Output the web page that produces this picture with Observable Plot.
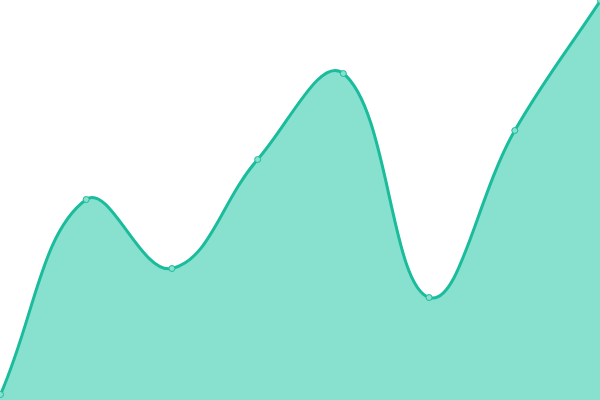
<!DOCTYPE html>
<html>
<head>
<meta charset="utf-8">
<script src="https://cdn.jsdelivr.net/npm/d3@7"></script>
<script src="https://cdn.jsdelivr.net/npm/@observablehq/plot@0.6"></script>
<style>
html,body{margin:0;padding:0;background:#fff;overflow:hidden;}
</style>
</head>
<body>
<div id="chart"></div>
<script>
const xs = [0, 1, 2, 3, 4, 5, 6, 7];
const values = [1.5, 50.25, 33, 60.25, 81.75, 25.75, 67.5, 100];
const data = xs.map((x, i) => ({x, y: values[i]}));

// Spline with distance-weighted control points (tension 0.4)
function SplineCurve(context) { this._context = context; }
SplineCurve.prototype = {
  areaStart() { this._line = 0; },
  areaEnd() { this._line = NaN; },
  lineStart() { this._pts = []; },
  point(x, y) { this._pts.push([+x, +y]); },
  lineEnd() {
    const p = this._pts, n = p.length, c = this._context, t = 0.4;
    if (n) {
      if (this._line) c.lineTo(p[0][0], p[0][1]); else c.moveTo(p[0][0], p[0][1]);
      const cps = p.map((cur, i) => {
        const prev = p[Math.max(0, i - 1)], next = p[Math.min(n - 1, i + 1)];
        const d01 = Math.hypot(cur[0] - prev[0], cur[1] - prev[1]);
        const d12 = Math.hypot(next[0] - cur[0], next[1] - cur[1]);
        let s01 = d01 / (d01 + d12), s12 = d12 / (d01 + d12);
        if (!isFinite(s01)) s01 = 0;
        if (!isFinite(s12)) s12 = 0;
        const fa = t * s01, fb = t * s12;
        return {
          prev: [cur[0] - fa * (next[0] - prev[0]), cur[1] - fa * (next[1] - prev[1])],
          next: [cur[0] + fb * (next[0] - prev[0]), cur[1] + fb * (next[1] - prev[1])]
        };
      });
      for (let i = 0; i < n - 1; i++) {
        const a = cps[i].next, b = cps[i + 1].prev;
        c.bezierCurveTo(a[0], a[1], b[0], b[1], p[i + 1][0], p[i + 1][1]);
      }
    }
    if (this._line || (this._line !== 0 && n === 1)) c.closePath();
    this._line = 1 - this._line;
  }
};
const spline = (context) => new SplineCurve(context);

const chart = Plot.plot({
  width: 600,
  height: 400,
  margin: 0,
  x: {domain: [0, 7], axis: null},
  y: {domain: [0, 100], axis: null},
  marks: [
    Plot.areaY(data, {x: "x", y: "y", curve: spline, fill: "#88e0cf"}),
    Plot.lineY(data, {x: "x", y: "y", curve: spline, stroke: "#1abc9c", strokeWidth: 3}),
    Plot.dot(data, {x: "x", y: "y", r: 3, fill: "#88e0cf", stroke: "#1abc9c", strokeWidth: 1})
  ]
});
document.getElementById("chart").append(chart);
</script>
</body>
</html>
